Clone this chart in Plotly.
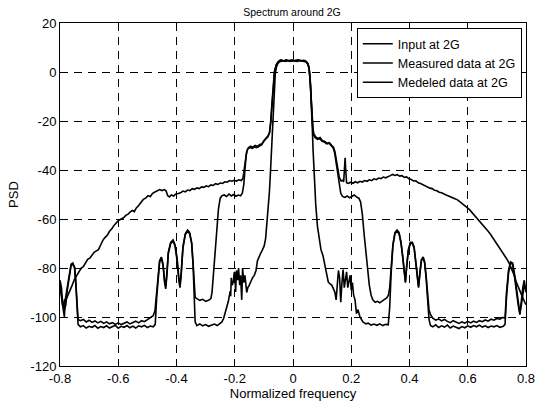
import plotly.graph_objects as go

# ---------------- data ----------------
input_x = [-0.800, -0.795, -0.790, -0.785, -0.782, -0.776, -0.768, -0.762, -0.756, -0.750, -0.746, -0.742, -0.738,
           -0.730, -0.720, -0.710, -0.700, -0.690, -0.680, -0.670, -0.660, -0.650, -0.640, -0.630, -0.620, -0.610,
           -0.600, -0.590, -0.580, -0.570, -0.560, -0.550, -0.540, -0.530, -0.520, -0.510, -0.500, -0.490, -0.480, -0.473,
           -0.468, -0.463, -0.458, -0.452, -0.446, -0.441, -0.437, -0.433, -0.428, -0.420, -0.412, -0.405, -0.398, -0.392,
           -0.388, -0.384, -0.378, -0.370, -0.362, -0.355, -0.348, -0.343, -0.339, -0.336,
           -0.330, -0.320, -0.310, -0.300, -0.290, -0.280, -0.270, -0.260, -0.250, -0.244,
           -0.238, -0.233, -0.227, -0.222, -0.218, -0.216, -0.214, -0.212, -0.209, -0.205, -0.202, -0.200, -0.197, -0.194,
           -0.190, -0.187, -0.183, -0.180, -0.176, -0.173, -0.169, -0.165, -0.159, -0.155, -0.150, -0.145, -0.139, -0.133,
           -0.127, -0.122, -0.116, -0.111, -0.105, -0.099, -0.094, -0.090, -0.086, -0.081, -0.077, -0.073, -0.069, -0.065,
           -0.061, -0.057, -0.052, -0.045, -0.035, -0.025, -0.015, -0.005, 0.005, 0.015, 0.025, 0.035, 0.045, 0.051, 0.055,
           0.059, 0.063, 0.066, 0.069, 0.073, 0.078, 0.084, 0.090, 0.096, 0.103, 0.110, 0.116, 0.121, 0.127, 0.133, 0.139,
           0.144, 0.148, 0.152, 0.156, 0.160, 0.164, 0.168, 0.172, 0.176, 0.180, 0.184, 0.188, 0.192, 0.196, 0.200, 0.204,
           0.208, 0.213, 0.218, 0.223, 0.230, 0.240, 0.250, 0.258, 0.268, 0.278, 0.288, 0.298, 0.308, 0.318, 0.327,
           0.332, 0.337, 0.343, 0.350, 0.357, 0.364, 0.371, 0.377, 0.382, 0.386, 0.390, 0.396, 0.403, 0.410, 0.416, 0.421,
           0.426, 0.431, 0.436, 0.441, 0.447, 0.452, 0.457, 0.462, 0.467, 0.472,
           0.480, 0.490, 0.500, 0.510, 0.520, 0.530, 0.540, 0.550, 0.560, 0.570, 0.580, 0.590, 0.600, 0.610, 0.620, 0.630,
           0.640, 0.650, 0.660, 0.670, 0.680, 0.690, 0.700, 0.710, 0.722, 0.728,
           0.733, 0.740, 0.747, 0.754, 0.760, 0.767, 0.773, 0.779, 0.784, 0.789, 0.794, 0.800]
input_y = [-85, -88, -96, -100, -93, -88, -82, -78.5, -78, -80, -86, -96, -103,
           -104, -103.5, -104.5, -103.8, -104.2, -103.5, -104.6, -103.9, -104.3, -103.6, -104.5, -104, -103.4,
           -104.6, -103.8, -104.2, -103.5, -104.4, -103.7, -104.5, -103.6, -104, -103.4, -104.3, -103.7, -104, -103,
           -92, -83, -77.5, -76, -79, -86, -88.5, -83, -74, -70, -69, -71, -77, -85,
           -88, -83, -72, -66.5, -65, -66, -70, -79, -92, -102,
           -103.5, -102.8, -103.6, -103.1, -103.8, -103.2, -102.9, -103.5, -102.5, -102,
           -100.5, -98.6, -95.7, -93.6, -91, -89.5, -91.5, -84, -87, -85.7, -82, -81.6, -89.8, -81,
           -85, -80, -87, -83, -93, -80, -86, -83, -90, -88, -87, -85.5, -84, -83,
           -81, -77, -75, -74, -72.6, -71, -68, -63, -56, -49, -40, -30, -18, -8,
           -1, 2, 3.5, 4.2, 4.6, 4.3, 4.7, 4.4, 4.6, 4.3, 4.7, 4.4, 4.1, 3.2, 1.5,
           -3, -12, -22, -32, -44, -54, -63, -69, -72.5, -75, -79, -83, -85.7, -86.5, -87, -88.5,
           -90, -93, -86, -81, -84, -94, -86, -80.6, -88, -84, -81.6, -88, -86, -83, -89, -86,
           -91, -93, -98.6, -97, -100, -102, -102.8, -102.5, -103.3, -102.9, -103.4, -102.8, -103.5, -103, -103.2,
           -96, -82, -71, -66, -65, -66, -70, -76, -83, -86, -80, -73, -70, -70, -72, -78,
           -85, -88, -82, -77, -76, -78, -84, -93, -101, -103.5,
           -104, -103.2, -104.3, -103.6, -104.1, -103.3, -104.5, -103.7, -104.2, -104.7, -103.9, -104.4, -103.6, -104.2, -103.5, -104,
           -103.3, -104.1, -103.6, -104.3, -103.7, -104, -103.5, -104.2, -103.8, -103,
           -92, -82, -78, -78.5, -83, -90, -95, -99, -93, -88, -85, -90]

measured_x = [-0.800, -0.796, -0.792, -0.788, -0.784, -0.778, -0.772, -0.765, -0.758, -0.750, -0.742, -0.735, -0.727,
              -0.720, -0.712, -0.705, -0.698, -0.690, -0.682, -0.675, -0.668, -0.660, -0.652, -0.645, -0.637, -0.630,
              -0.622, -0.614, -0.606, -0.598, -0.590, -0.582, -0.574, -0.566, -0.558, -0.550, -0.545, -0.538, -0.530,
              -0.522, -0.514, -0.506, -0.498, -0.490, -0.482, -0.474, -0.466, -0.458, -0.450, -0.442, -0.436, -0.430,
              -0.424, -0.418, -0.410, -0.402, -0.394, -0.386, -0.378, -0.370, -0.362, -0.354, -0.346, -0.338, -0.330,
              -0.322, -0.314, -0.306, -0.298, -0.290, -0.282, -0.274, -0.266, -0.258, -0.250, -0.242, -0.234, -0.226,
              -0.218, -0.210, -0.202, -0.194, -0.186, -0.178, -0.172, -0.167, -0.163, -0.159, -0.154, -0.146, -0.138,
              -0.130, -0.122, -0.114, -0.106, -0.099, -0.092, -0.086, -0.080, -0.076, -0.072, -0.068, -0.063, -0.057,
              -0.050, -0.040, -0.030, -0.020, -0.010, 0.000, 0.010, 0.020, 0.030, 0.040, 0.047, 0.052, 0.056, 0.060,
              0.064, 0.067, 0.071, 0.077, 0.085, 0.093, 0.101, 0.109, 0.117, 0.125, 0.133, 0.139, 0.144, 0.149, 0.154,
              0.159, 0.165, 0.170, 0.174, 0.177, 0.179, 0.181, 0.184, 0.190, 0.198, 0.206, 0.214, 0.222, 0.230, 0.238,
              0.246, 0.254, 0.262, 0.270, 0.278, 0.286, 0.294, 0.302, 0.310, 0.318, 0.326, 0.334, 0.342, 0.350, 0.358,
              0.366, 0.374, 0.382, 0.390, 0.398, 0.406, 0.414, 0.422, 0.430, 0.438, 0.446, 0.454, 0.462, 0.470, 0.478,
              0.486, 0.494, 0.502, 0.510, 0.518, 0.526, 0.534, 0.542, 0.550, 0.558, 0.566, 0.574, 0.582, 0.590, 0.598,
              0.606, 0.614, 0.622, 0.630, 0.638, 0.646, 0.654, 0.662, 0.670, 0.678, 0.686, 0.694, 0.702, 0.710, 0.718,
              0.726, 0.734, 0.742, 0.750, 0.758, 0.766, 0.774, 0.782, 0.790, 0.800]
measured_y = [-86, -91, -95, -96, -93, -92.5, -91, -89, -87, -84.5, -83, -81.5, -80,
              -79.5, -78, -76.5, -76, -74.5, -73.5, -73, -72.5, -70.5, -68.5, -67.5, -66.5, -65,
              -64, -62.5, -61.5, -60.5, -60, -59.5, -58.5, -58, -57, -56.5, -57, -55.5, -54.5,
              -53, -52, -51.5, -50.5, -50.8, -49.5, -49, -48.6, -48, -48.4, -48, -48.5, -50.5,
              -51, -50.2, -50.6, -49.8, -49.6, -49.3, -48.6, -48.9, -48.2, -48.4, -47.6, -47.9, -47.3,
              -47.6, -46.9, -47.1, -46.5, -46.8, -46.1, -46.3, -45.6, -45.9, -45.3, -45.5, -44.8, -45,
              -44.3, -44.6, -44.2, -44.5, -44, -44.3, -43.5, -39, -35, -32.5, -31, -30.3, -30.7,
              -30, -30.4, -29.6, -29.3, -27.8, -26.9, -26.2, -24.5, -20, -13, -5, 0.5, 3,
              4.3, 4.9, 4.4, 4.8, 4.3, 4.8, 4.4, 4.9, 4.5, 4.7, 4.1, 3.2, 1, -5,
              -14, -22, -25, -26.4, -27.1, -26.7, -28, -28.3, -29.1, -28.8, -30, -30.7, -32.5, -36, -40,
              -43, -44.5, -44.2, -44.8, -40, -35, -40, -45.2, -45.5, -45, -45.4, -44.8, -45.2, -44.6, -44.9,
              -44.3, -44.6, -44, -44.3, -43.6, -43.9, -43.3, -43.5, -42.9, -43.2, -42.6, -42.3, -41.8, -42.2, -41.9,
              -42.5, -42.3, -43, -42.8, -43.6, -43.9, -44.5, -44.4, -45.2, -45.5, -46, -46.3, -46.8, -47.4, -47.6,
              -48.3, -48.5, -49.1, -49.3, -49.9, -50.2, -50.6, -50.9, -51.2, -51.8, -52.3, -53, -53.8, -54.5, -55.4,
              -56.2, -57.3, -58.3, -59.2, -60.4, -61.5, -62.4, -63.8, -65, -66.2, -67.6, -68.8, -70.3, -71.8, -73.2,
              -74.8, -76.3, -78, -80, -82.5, -85.5, -88, -90.5, -92.5, -95]

modeled_x = [-0.800, -0.795, -0.790, -0.785, -0.780, -0.775, -0.768, -0.762, -0.756, -0.750, -0.746, -0.742, -0.738,
             -0.730, -0.720, -0.710, -0.700, -0.690, -0.680, -0.670, -0.660, -0.650, -0.640, -0.630, -0.620, -0.610,
             -0.600, -0.590, -0.580, -0.570, -0.560, -0.550, -0.540, -0.530, -0.520, -0.510, -0.500, -0.490, -0.480, -0.474,
             -0.468, -0.463, -0.458, -0.452, -0.446, -0.441, -0.437, -0.433, -0.428, -0.420, -0.412, -0.405, -0.398, -0.392,
             -0.388, -0.384, -0.378, -0.370, -0.362, -0.355, -0.348, -0.343, -0.339, -0.336,
             -0.330, -0.320, -0.310, -0.300, -0.290, -0.282, -0.278, -0.273, -0.268, -0.262, -0.256, -0.250, -0.244,
             -0.236, -0.228, -0.220, -0.212, -0.204, -0.196, -0.188, -0.180, -0.174, -0.169, -0.165, -0.161, -0.156,
             -0.148, -0.140, -0.132, -0.124, -0.116, -0.108, -0.101, -0.094, -0.087, -0.081, -0.077, -0.073, -0.069,
             -0.064, -0.058, -0.052, -0.044, -0.034, -0.024, -0.014, -0.004, 0.006, 0.016, 0.026, 0.036, 0.044, 0.050,
             0.055, 0.059, 0.063, 0.066, 0.070, 0.076, 0.084, 0.092, 0.100, 0.108, 0.116, 0.124, 0.132, 0.138, 0.143,
             0.148, 0.153, 0.158, 0.164, 0.170, 0.178, 0.186, 0.194, 0.202, 0.210, 0.218, 0.226, 0.232, 0.238, 0.244,
             0.250, 0.256, 0.262, 0.268, 0.274, 0.282, 0.290, 0.298, 0.306, 0.314, 0.322, 0.328, 0.332,
             0.337, 0.343, 0.350, 0.357, 0.364, 0.371, 0.377, 0.382, 0.386, 0.390, 0.396, 0.403, 0.410, 0.416, 0.421,
             0.426, 0.431, 0.436, 0.441, 0.447, 0.452, 0.457, 0.462, 0.467, 0.472,
             0.480, 0.490, 0.500, 0.510, 0.520, 0.530, 0.540, 0.550, 0.560, 0.570, 0.580, 0.590, 0.600, 0.610, 0.620, 0.630,
             0.640, 0.650, 0.660, 0.670, 0.680, 0.690, 0.700, 0.710, 0.720, 0.728,
             0.733, 0.740, 0.747, 0.754, 0.760, 0.767, 0.773, 0.779, 0.784, 0.789, 0.794, 0.800]
modeled_y = [-88, -92, -94, -97, -95, -89, -83, -79, -78.5, -79.5, -85, -95, -101,
             -101.5, -101, -102, -101.3, -102.2, -101.6, -102.4, -101.8, -102.6, -102, -102.8, -102.3, -103,
             -102.4, -103.1, -102.6, -102, -102.8, -102.2, -101.7, -102.4, -101.5, -101.9, -101, -100.4, -99.5, -97.5,
             -90, -82, -77, -75.5, -78.5, -85, -87.5, -82, -73.5, -69.5, -68.5, -70.5, -76, -84,
             -87, -82, -71.5, -66, -64.5, -65.5, -69.5, -78, -89, -92,
             -92.5, -93.2, -92.8, -93.6, -93.2, -92.5, -90, -82, -72.6, -64, -56, -51.5, -50.5,
             -50.2, -50.8, -49.8, -50.6, -50, -50.7, -50.2, -50.5, -49.5, -46, -40, -34, -31.5,
             -30.8, -31.2, -30.6, -30.9, -30.2, -29.8, -28.2, -27.2, -26.5, -25, -21, -14, -6,
             0, 2.8, 4, 4.8, 4.5, 5, 4.6, 5, 4.7, 5, 4.6, 4.8, 4.4, 3.6,
             1.8, -4, -13, -21, -25.5, -26.8, -27.5, -27.2, -28.3, -28.6, -29.3, -29.1, -30.2, -31, -33,
             -37, -42, -46.5, -49.5, -50.8, -51.2, -50.6, -51.3, -50.8, -50.2, -51, -51.5, -53, -58, -66,
             -74, -81, -87, -91, -93, -94, -93.6, -94.2, -93.3, -92.8, -92.2, -91, -88,
             -80, -70.5, -65.5, -64.5, -65.5, -69.5, -75.5, -82.5, -85.5, -79.5, -72.5, -69.5, -69.5, -71.5, -77.5,
             -84.5, -87.5, -81.5, -76.5, -75.5, -77.5, -83, -91, -97, -99,
             -100.5, -101.3, -100.8, -101.6, -101, -101.8, -102.3, -101.5, -102.1, -102.6, -102, -102.5, -101.8, -102.4, -101.7, -102.2,
             -101.5, -101.9, -101.2, -101.7, -100.9, -101.3, -100.6, -100.9, -100.2, -100.5,
             -90, -81, -77.5, -78, -82, -89, -94, -98.5, -95, -90, -87, -89]

series_names = ["Input at 2G", "Measured data at 2G", "Medeled data at 2G"]
x_ticks = [-0.8, -0.6, -0.4, -0.2, 0, 0.2, 0.4, 0.6, 0.8]
x_tick_labels = ["-0.8", "-0.6", "-0.4", "-0.2", "0", "0.2", "0.4", "0.6", "0.8"]
y_ticks = [-120, -100, -80, -60, -40, -20, 0, 20]
y_tick_labels = ["-120", "-100", "-80", "-60", "-40", "-20", "0", "20"]

# ---------------- figure ----------------
FONT = "Arial, Liberation Sans, Helvetica, sans-serif"
fig = go.Figure()
for name, xs, ys in zip(series_names,
                        [input_x, measured_x, modeled_x],
                        [input_y, measured_y, modeled_y]):
    fig.add_trace(go.Scatter(x=xs, y=ys, mode="lines", name=name,
                             line=dict(color="black", width=1.6)))

axis_common = dict(showline=True, linecolor="black", linewidth=1, mirror="ticks",
                   ticks="inside", ticklen=5, tickcolor="black", tickwidth=1,
                   showgrid=True, gridcolor="black", gridwidth=1, griddash="8px,6px",
                   zeroline=False, tickfont=dict(family=FONT, size=13, color="black"))

fig.update_xaxes(range=[-0.8, 0.8], tickmode="array", tickvals=x_ticks, ticktext=x_tick_labels,
                 title=dict(text="Normalized frequency", font=dict(family=FONT, size=13, color="black"),
                            standoff=2),
                 **axis_common)
fig.update_yaxes(range=[-120, 20], tickmode="array", tickvals=y_ticks, ticktext=y_tick_labels,
                 title=dict(text="PSD", font=dict(family=FONT, size=13, color="black"), standoff=8),
                 **axis_common)

fig.update_layout(
    width=540, height=402,
    margin=dict(l=60, r=14, t=23, b=36, autoexpand=False),
    paper_bgcolor="white", plot_bgcolor="white",
    font=dict(family=FONT, size=13, color="black"),
    hovermode=False,
    title=dict(text="Spectrum around 2G", font=dict(family=FONT, size=10.5, color="black"),
               x=(292 / 540), xanchor="center", xref="container", y=1 - 12 / 402, yanchor="middle",
               yref="container"),
    legend=dict(x=0.991, xanchor="right", y=0.985, yanchor="top",
                bgcolor="white", bordercolor="black", borderwidth=1,
                font=dict(family=FONT, size=12.5, color="black"),
                tracegroupgap=0, itemwidth=30),
    showlegend=True,
)

fig.write_html("out.html",
               config={"displayModeBar": False, "staticPlot": True},
               post_script="document.body.style.margin='0';document.body.style.overflow='hidden';")
